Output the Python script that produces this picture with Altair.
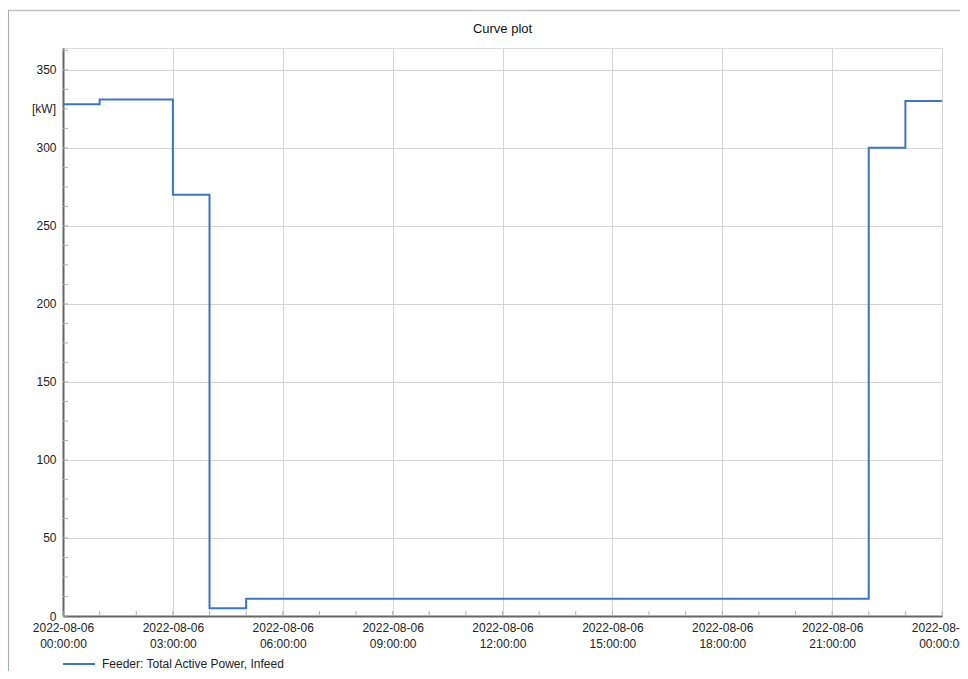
import altair as alt
import pandas as pd

# ---- data ----
times = [
    "2022-08-06T00:00:00Z", "2022-08-06T01:00:00Z", "2022-08-06T02:00:00Z",
    "2022-08-06T03:00:00Z", "2022-08-06T04:00:00Z", "2022-08-06T05:00:00Z",
    "2022-08-06T06:00:00Z", "2022-08-06T07:00:00Z", "2022-08-06T08:00:00Z",
    "2022-08-06T09:00:00Z", "2022-08-06T10:00:00Z", "2022-08-06T11:00:00Z",
    "2022-08-06T12:00:00Z", "2022-08-06T13:00:00Z", "2022-08-06T14:00:00Z",
    "2022-08-06T15:00:00Z", "2022-08-06T16:00:00Z", "2022-08-06T17:00:00Z",
    "2022-08-06T18:00:00Z", "2022-08-06T19:00:00Z", "2022-08-06T20:00:00Z",
    "2022-08-06T21:00:00Z", "2022-08-06T22:00:00Z", "2022-08-06T23:00:00Z",
    "2022-08-07T00:00:00Z",
]
power_kw = [328, 331, 331, 270, 5, 11, 11, 11, 11, 11, 11, 11, 11,
            11, 11, 11, 11, 11, 11, 11, 11, 11, 300, 330, 330]
series_name = "Feeder: Total Active Power, Infeed"
chart_title = "Curve plot"
unit_label = "[kW]"
unit_label_value = 325
y_major_ticks = [0, 50, 100, 150, 200, 250, 300, 350]
y_minor_ticks = [i * 12.5 for i in range(30)]
x_major_hours = [0, 3, 6, 9, 12, 15, 18, 21, 24]

FONT = "Liberation Sans"
BLUE = "#3a76c8"
GRID = "#d4d4d4"
W, H = 879, 568

df = pd.DataFrame({"time": times, "kw": power_kw})
df_xticks = pd.DataFrame({"time": times})
df_yticks = pd.DataFrame({"kw": y_minor_ticks})
df_unit = pd.DataFrame({"kw": [unit_label_value], "label": [unit_label]})
df_title = pd.DataFrame({"label": [chart_title]})
df_legend = pd.DataFrame({"label": [series_name]})
df_one = pd.DataFrame({"a": [0]})

x_values = [
    alt.DateTime(year=2022, month=8, date=6 + h // 24, hours=h % 24, utc=True)
    for h in x_major_hours
]

x_scale = alt.Scale(type="utc", domain=[times[0], times[-1]])
y_scale = alt.Scale(domain=[0, 364], nice=False)

x_axis = alt.Axis(
    values=x_values,
    labelExpr="[utcFormat(datum.value, '%Y-%m-%d'), utcFormat(datum.value, '%H:%M:%S')]",
    title=None, ticks=False, grid=True, gridColor=GRID, gridWidth=1,
    domainColor="#666666", domainWidth=2,
    labelFont=FONT, labelFontSize=12, labelColor="#222222",
    labelPadding=6, labelLineHeight=16, labelBaseline="top",
    labelOverlap=False, labelFlush=False,
)
y_axis = alt.Axis(
    values=y_major_ticks, title=None, ticks=False, grid=True,
    gridColor=GRID, gridWidth=1, domainColor="#666666", domainWidth=2,
    labelFont=FONT, labelFontSize=12, labelColor="#222222",
    labelPadding=7, labelFlush=False,
)

line = alt.Chart(df).mark_line(
    interpolate="step-after", color=BLUE, strokeWidth=2
).encode(
    x=alt.X("time:T", scale=x_scale, axis=x_axis),
    y=alt.Y("kw:Q", scale=y_scale, axis=y_axis),
)

xminor = alt.Chart(df_xticks).mark_rule(color="#b0b0b0", strokeWidth=1).encode(
    x=alt.X("time:T", scale=x_scale, axis=x_axis),
    y=alt.value(H), y2=alt.value(H - 5),
)

yminor = alt.Chart(df_yticks).mark_rule(color="#b0b0b0", strokeWidth=1).encode(
    y=alt.Y("kw:Q", scale=y_scale, axis=y_axis),
    x=alt.value(0), x2=alt.value(5),
)

unit = alt.Chart(df_unit).mark_text(
    align="right", baseline="middle", font=FONT, fontSize=12, color="#222222"
).encode(
    y=alt.Y("kw:Q", scale=y_scale, axis=y_axis),
    x=alt.value(-7), text="label:N",
)

title = alt.Chart(df_title).mark_text(
    align="center", baseline="middle", font=FONT, fontSize=13, color="#111111"
).encode(x=alt.value(W / 2), y=alt.value(-19), text="label:N")

legend_line = alt.Chart(df_one).mark_rule(color=BLUE, strokeWidth=2).encode(
    x=alt.value(0), x2=alt.value(32), y=alt.value(616)
)
legend_text = alt.Chart(df_legend).mark_text(
    align="left", baseline="middle", font=FONT, fontSize=12, color="#222222"
).encode(x=alt.value(39), y=alt.value(616), text="label:N")

frame_top = alt.Chart(df_one).mark_rule(color="#c4c4c4", strokeWidth=1.5).encode(
    x=alt.value(-55), x2=alt.value(910), y=alt.value(-37.5)
)
frame_left = alt.Chart(df_one).mark_rule(color="#a4acbc", strokeWidth=2).encode(
    x=alt.value(-55), y=alt.value(-38), y2=alt.value(640)
)

chart = alt.layer(
    line, xminor, yminor, unit, title, legend_line, legend_text, frame_top, frame_left
).properties(
    width=W, height=H,
    autosize=alt.AutoSizeParams(type="none"),
    padding={"left": 55, "top": 40, "right": 18, "bottom": 55},
).configure_view(stroke=None).configure(background="white")

chart.save("out.html", embed_options={"renderer": "svg", "actions": False})
